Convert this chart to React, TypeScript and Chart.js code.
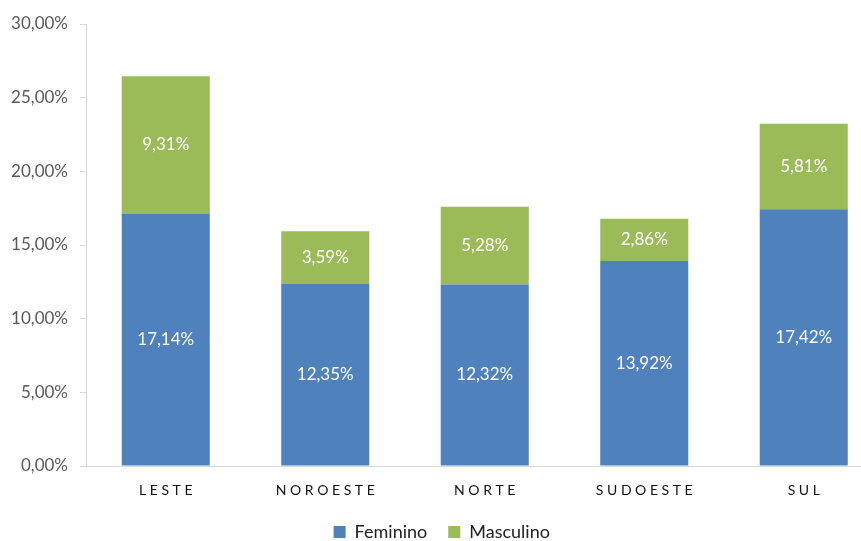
import React, { useEffect, useRef } from "react";
import { Chart, registerables } from "chart.js";

Chart.register(...registerables);

const categories = ["LESTE", "NOROESTE", "NORTE", "SUDOESTE", "SUL"];
const feminino = [17.14, 12.35, 12.32, 13.92, 17.42];
const masculino = [9.31, 3.59, 5.28, 2.86, 5.81];
const yTicks = [0, 5, 10, 15, 20, 25, 30];

const fmt = (v: number) => v.toFixed(2).replace(".", ",") + "%";

const FONT = "Lato";

const dataLabels = {
  id: "dataLabels",
  afterDatasetsDraw(chart: any) {
    const ctx = chart.ctx;
    ctx.save();
    ctx.fillStyle = "#ffffff";
    ctx.font = `17px ${FONT}`;
    ctx.textAlign = "center";
    ctx.textBaseline = "middle";
    chart.data.datasets.forEach((ds: any, di: number) => {
      const meta = chart.getDatasetMeta(di);
      meta.data.forEach((el: any, i: number) => {
        const v = ds.data[i];
        ctx.fillText(fmt(v), el.x, (el.y + el.base) / 2);
      });
    });
    ctx.restore();
  },
};

export default function App() {
  const ref = useRef<HTMLCanvasElement>(null);
  useEffect(() => {
    const canvas = ref.current!;
    const chart = new Chart(canvas, {
      type: "bar",
      data: {
        labels: categories,
        datasets: [
          { label: "Feminino", data: feminino, backgroundColor: "#4F81BD", categoryPercentage: 1, barPercentage: 0.552 },
          { label: "Masculino", data: masculino, backgroundColor: "#9BBB59", categoryPercentage: 1, barPercentage: 0.552 },
        ],
      },
      options: {
        animation: false,
        responsive: false,
        devicePixelRatio: 1,
        layout: { padding: { left: 0, right: 0.5, top: 24, bottom: -10 } },
        plugins: {
          legend: {
            position: "bottom",
            labels: {
              boxWidth: 12,
              boxHeight: 12,
              color: "#222222",
              font: { family: FONT, size: 18 },
              padding: 21,
            },
          },
          tooltip: { enabled: false },
        },
        scales: {
          x: {
            stacked: true,
            grid: { display: false, drawTicks: false },
            border: { color: "#D9D9D9", width: 1 },
            ticks: {
              color: "#111111",
              font: { family: FONT, size: 14 },
              padding: 16,
              maxRotation: 0,
              callback: (_v: any, i: number) => categories[i].split("").join(" "),
            },
            afterFit: (s: any) => {
              s.height = 36;
            },
          },
          y: {
            stacked: true,
            min: 0,
            max: 30,
            afterBuildTicks: (s: any) => {
              s.ticks = yTicks.map((v) => ({ value: v }));
            },
            grid: { drawOnChartArea: false, drawTicks: true, tickLength: 6, color: "#D9D9D9" },
            border: { color: "#D9D9D9", width: 1 },
            ticks: {
              color: "#595959",
              font: { family: FONT, size: 17 },
              padding: 12,
              callback: (v: any) => fmt(Number(v)),
            },
            afterFit: (s: any) => {
              s.width = 86;
            },
          },
        },
      },
      plugins: [dataLabels],
    });
    return () => chart.destroy();
  }, []);
  return (
    <div style={{ position: "fixed", left: 0, top: 0, width: 861, height: 541, overflow: "hidden", background: "#fff" }}>
      <canvas ref={ref} width={884} height={541} style={{ display: "block", width: 884, height: 541 }} />
    </div>
  );
}
